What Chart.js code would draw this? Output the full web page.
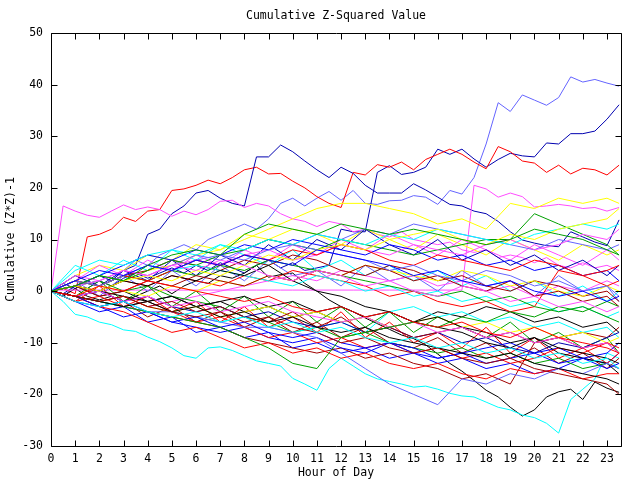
<!DOCTYPE html>
<html lang="en">
<head>
<meta charset="UTF-8">
<title>Cumulative Z-Squared Value</title>
<script src="https://cdn.jsdelivr.net/npm/chart.js@4/dist/chart.umd.min.js"></script>
<style>
  html, body { margin: 0; padding: 0; background: #fff; }
  #wrap { width: 640px; height: 480px; }
</style>
</head>
<body>
<div id="wrap"><canvas id="chart" width="640" height="480"></canvas></div>
<script>
// x positions (hours)
const hoursHalf = [0,0.5,1,1.5,2,2.5,3,3.5,4,4.5,5,5.5,6,6.5,7,7.5,8,8.5,9,9.5,
  10,10.5,11,11.5,12,12.5,13,13.5,14,14.5,15,15.5,16,16.5,17,17.5,18,18.5,19,19.5,
  20,20.5,21,21.5,22,22.5,23,23.5];
const hoursWhole = [0,1,2,3,4,5,6,7,8,9,10,11,12,13,14,15,16,17,18,19,20,21,22,23,23.5];

const xTicks = [0,1,2,3,4,5,6,7,8,9,10,11,12,13,14,15,16,17,18,19,20,21,22,23];
const yTicks = [-30,-20,-10,0,10,20,30,40,50];

// prominent traces, half-hour readings
const lightBlueTop = [0,-1,1,2,3,2,4,6,5,7, 8,9,8,10,11,12,13,12,14,17,
  18,16.5,18,19.3,17.6,19.5,17,16.8,17.5,17.6, 18.5,18.2,16.8,19.5,18.8,22,28.5,36.5,34.8,38,
  37,36,37.5,41.5,40.5,41,40.3,39.7];
const navyLate = [0,-0.5,1,0.5,2,1,2.5,3.5,2.5,3.5, 4.5,3.5,5,4,5.5,4.5,3.5,5,6,4.5,
  5.5,4,4.5,5,12,11.5,11.5,23,24.3,22.6, 23,24,27.5,26.5,27.5,25.6,24,25.5,26.7,26.2,
  26,28.7,28.5,30.5,30.5,31,33.3,36.1];
const navyEarly = [0,1.5,0.5,2,3,2,4,5,11,12, 15,16.5,19,19.5,18,17,16.5,26,26,28.3,
  27,25.2,23.5,22,24,22.8,20.5,19,19,19, 20.8,19.6,18.2,16.8,16.5,15.5,15,13.5,11.5,9.9,
  9.3,8.8,8.6,11.5,10.5,9.5,8.8,13.8];
const redTop = [0,0.5,-0.5,10.5,11,12,14.3,13.5,15.5,15.8, 19.5,19.8,20.5,21.5,20.8,22,23.5,24,22.7,22.8,
  21.3,20,18.3,17,16.2,23,22.5,24.5,24,25, 23.5,25.5,26.5,27.5,26.5,25,23.7,28,27,25.2,
  24.8,23,24.4,22.7,23.8,23.5,22.5,24.4];
const magentaHigh = [0,16.5,15.5,14.7,14.3,15.5,16.7,15.8,16.3,15.8, 14.5,15.5,14.8,15.8,17.4,17.6,16.2,17,16.5,15,
  14,13.5,12.5,13.5,13,11.5,12,11,10.5,11.5, 10,9.5,9,9.5,8,7.5,8,6.5,7,6.5,
  5.5,6.5,5,4.5,5.5,4.5,5,4];
const magentaFlat = [0.2,0.2,0.2,0.2,0.2,0.2,0.2,0.2,0.2,0.2, 0.2,0.2,0.2,0.2,0.2,0.2,0.2,0.2,0.2,0.2,
  0.2,0.2,0.2,0.2,0.2,0.2,0.2,0.2,0.2,0.2, 0.2,0.2,0.2,0.2,0.2,20.5,19.8,18.2,19,18.3,
  16.3,16.5,16.8,16.5,16,16.2,15.5,16.2];
const cyanLow = [0,-2,-4.5,-5,-6,-6.5,-7.5,-7.8,-8.9,-9.8, -11,-12.5,-13,-11,-10.8,-11.5,-12.5,-13.5,-14,-14.5,
  -16.9,-18,-19.2,-15,-13,-14.5,-16,-17,-17.5,-18, -18.6,-18.4,-19,-19.8,-20.3,-20.5,-21.5,-22.5,-23,-24,
  -24.5,-25.6,-27.5,-21,-19,-17,-12,-13];
const blackLow = [0,-1,0.5,-1,-1.7,-1,-2,-1,0,1, -0.5,1,2,1.5,3,2.5,3.5,5,2.7,3.2,
  3.5,1.5,0,-1.7,-3,-4,-5.2,-6.3,-7.4,-8.5, -9.2,-10.4,-12.2,-14,-15.5,-17.3,-19.2,-20.5,-22.5,-24.2,
  -23,-20.5,-19.5,-19,-21,-17.6,-18.8,-19.6];

// remaining traces, hourly readings
const s01 = [0,-1,1,0,2,1,0,-1,-2,-1,-3,-4,-3,-5,-4,-6,-7,-6,-8,-9,-7,-9,-10,-11,-12];
const s02 = [0,1,3,2,5,7,8,7,11,13,12,11,13,12,11,12,11,10,9,10,12,11,10,8,7];
const s03 = [0,2,4,3,5,4,6,5,7,6,5,8,7,6,5,3,4,2,1,2,0,-1,0,-2,-1];
const s04 = [0,3,2,4,3,5,4,6,5,3,2,4,3,1,2,0,-1,1,0,-2,-1,-3,-2,-4,-3];
const s05 = [0,-2,-3,-2,-4,-5,-4,-6,-5,-7,-6,-8,-7,-9,-10,-9,-11,-10,-12,-11,-13,-12,-14,-13,-15];
const s06 = [0,-1,-2,-1,-3,-4,-5,-4,-6,-5,-7,-8,-10,-9,-11,-12,-11,-13,-14,-13,-15,-16,-17,-18,-20];
const s07 = [0,1,0,2,3,2,4,3,5,7,6,8,9,8,10,11,12,10,9,11,10,12,13,14,16];
const s08 = [0,-1,-2,-3,-2,-4,-3,-5,-4,-6,-5,-7,-8,-7,-9,-10,-11,-12,-13,-12,-14,-15,-16,-17,-18];
const s09 = [0,2,1,3,5,4,6,7,6,8,9,8,7,6,4,5,3,2,4,3,1,2,0,1,-1];
const s10 = [0,2,1,3,2,4,6,5,7,6,8,7,9,8,6,5,7,6,5,4,6,5,3,4,5];
const s11 = [0,-1,-2,-3,-4,-5,-6,-7,-9,-11,-14,-15,-9,-8,-7,-6,-7,-5,-6,-4,-5,-3,-4,-2,-3];
const s12 = [0,-1,-3,-2,-4,-6,-5,-7,-6,-8,-9,-8,-10,-11,-10,-12,-13,-12,-14,-13,-12,-14,-13,-15,-14];
const s13 = [0,-1,0,-2,-1,-3,-2,-4,-3,-2,-4,-5,-6,-5,-7,-6,-8,-7,-9,-8,-10,-9,-11,-10,-12];
const s14 = [0,4,6,5,7,8,7,9,8,10,9,11,10,9,11,10,12,11,10,9,11,12,13,12,13];
const s15 = [0,1,-1,0,2,1,3,2,1,3,2,4,3,5,4,2,3,1,0,2,-1,0,-2,-1,-3];
const s16 = [0,-1,1,0,-1,1,0,2,1,3,2,4,3,5,4,3,2,4,3,1,2,0,-1,1,0];
const s17 = [0,1,0,2,1,3,2,4,3,5,2,0,-1,-3,-4,-6,-5,-7,-8,-10,-9,-11,-12,-13,-14];
const s18 = [0,-1,-2,-3,-4,-4,-5,-6,-7,-7,-8,-9,-12,-15,-18,-20,-22,-17,-18,-16,-17,-15,-16,-14,-15];
const s19 = [0,-2,-1,-3,-2,-4,-6,-5,-7,-9,-8,-10,-9,-11,-10,-12,-11,-13,-12,-14,-13,-11,-12,-10,-11];
const s20 = [0,2,1,3,2,4,3,5,4,6,5,4,3,2,1,0,-1,0,-2,-1,-3,-4,-3,-5,-6];
const s21 = [0,1,3,5,7,6,8,7,9,8,10,9,8,7,9,8,6,7,5,6,4,5,3,4,2];
const s22 = [0,-1,-2,-1,-3,-2,-4,-3,-5,-6,-4,-7,-5,-8,-7,-9,-8,-7,-9,-8,-10,-9,-11,-10,-12];
const s23 = [0,2,1,3,2,4,5,4,3,2,1,3,2,0,1,-1,0,-2,-1,-3,-2,-4,-3,-5,-4];
const s24 = [0,-1,-2,-1,-3,-4,-3,-5,-4,-3,-5,-4,-6,-5,-7,-6,-5,-7,-6,-8,-7,-9,-8,-10,-9];
const s25 = [0,1,2,4,3,5,6,5,7,8,6,7,9,8,7,9,8,7,9,10,8,9,11,10,12];
const s26 = [0,-1,-3,-4,-6,-8,-7,-9,-11,-10,-12,-11,-13,-12,-14,-15,-14,-16,-17,-15,-16,-15,-17,-16,-16];
const s27 = [0,1,3,2,4,6,5,7,8,10,9,8,10,9,8,7,8,9,10,10,15,13,11,9,7];
const s28 = [0,-1,0,-2,-1,-3,-4,-3,-5,-4,-6,-7,-6,-8,-7,-9,-8,-10,-9,-11,-12,-10,-11,-9,-8];
const s29 = [0,-1,0,-1,-2,-1,-3,-2,-1,-3,-2,-4,-3,-5,-4,-6,-7,-8,-10,-11,-9,-12,-13,-14,-16];
const s30 = [0,1,2,4,3,5,7,6,8,10,9,11,10,12,11,13,12,11,10,9,8,10,9,8,9];
const s31 = [0,2,1,3,4,6,5,4,6,5,7,6,4,3,5,4,2,3,1,0,2,1,-1,0,-2];
const s32 = [0,1,3,2,4,5,7,8,10,12,14,16,17,17,16,15,13,14,12,17,16,18,17,18,17];
const s33 = [0,-1,-2,-3,-2,-4,-5,-6,-5,-7,-8,-7,-6,-8,-4,-3,-5,-4,-6,-5,-7,-6,-8,-7,-9];
const s34 = [0,-2,-3,-5,-4,-6,-7,-8,-7,-9,-10,-9,-11,-12,-10,-11,-13,-12,-11,-10,-12,-11,-13,-12,-10];
const s35 = [0,1,0,2,1,3,2,1,3,2,4,3,2,1,-1,0,-2,-3,-2,-4,-3,4,3,1,2];
const s36 = [0,1,2,0,1,-1,-2,-3,-5,-6,-8,-7,-9,-8,-10,-11,-12,-11,-13,-12,-14,-13,-15,-14,-15];
const s37 = [0,-1,-2,-1,-3,-2,-1,0,1,2,3,2,4,3,2,3,1,2,0,1,-1,1,0,2,1];
const s38 = [0,-1,-2,-3,-4,-5,-6,-7,-9,-10,-11,-12,-11,-13,-12,-14,-15,-17,-16,-18,-10,-9,-8,-9,-7];
const s39 = [0,3,1,4,2,6,3,7,5,9,6,10,8,12,9,7,10,6,8,5,7,4,6,3,5];
const s40 = [0,5,3,6,4,8,6,9,7,5,8,4,6,3,5,2,4,1,3,0,2,-1,1,-2,0];
const s41 = [0,-2,1,-3,-1,-4,-2,-6,-3,-7,-5,-8,-4,-9,-6,-10,-8,-11,-7,-12,-9,-13,-11,-14,-12];
const s42 = [0,2,5,3,6,4,7,5,8,6,9,7,10,8,11,9,7,10,8,6,9,7,5,8,6];
const s43 = [0,-1,2,-2,1,-3,0,-4,-1,-5,-2,-6,-3,-7,-4,-8,-5,-7,-9,-6,-10,-8,-11,-9,-12];
const s44 = [0,3,5,4,7,6,9,8,11,10,12,11,9,12,10,8,11,9,7,10,8,6,9,7,8];
const s45 = [0,-1,-3,-2,-5,-3,-6,-4,-7,-5,-8,-6,-9,-7,-10,-11,-9,-12,-10,-13,-11,-14,-12,-15,-13];
const s46 = [0,2,-1,3,0,4,1,5,2,6,3,4,1,5,2,3,0,4,1,2,-1,3,0,1,-2];
const s47 = [0,-2,-4,-3,-6,-5,-8,-7,-9,-8,-11,-10,-12,-11,-13,-12,-14,-13,-15,-14,-16,-15,-13,-14,-12];
const s48 = [0,1,-1,0,-2,-1,-3,-2,-4,-3,-5,-4,-6,-5,-7,-6,-4,-5,-3,-4,-6,-5,-7,-6,-8];

const RED = '#ff0000', GREEN = '#00a000', BLUE = '#0000ff', NAVY = '#0000b0',
      MAGENTA = '#ff4cff', CYAN = '#00ffff', DKRED = '#a00000', YELLOW = '#ffff00',
      BLACK = '#000000', PERI = '#6464ff';

const hourly = [
  [s01, RED], [s02, GREEN], [s03, BLUE], [s04, MAGENTA], [s05, CYAN], [s06, DKRED],
  [s07, YELLOW], [s08, BLACK], [s09, PERI], [s10, RED], [s11, GREEN], [s12, BLUE],
  [s13, MAGENTA], [s14, CYAN], [s15, DKRED], [s16, YELLOW], [s17, BLACK], [s18, PERI],
  [s19, RED], [s20, GREEN], [s21, BLUE], [s22, DKRED], [s23, CYAN], [s24, YELLOW],
  [s25, MAGENTA], [s26, RED], [s27, GREEN], [s28, NAVY], [s29, BLACK], [s30, PERI],
  [s31, DKRED], [s32, YELLOW], [s33, CYAN], [s34, BLUE], [s35, RED], [s36, GREEN],
  [s37, MAGENTA], [s38, DKRED], [s39, NAVY], [s40, CYAN], [s41, RED], [s42, MAGENTA],
  [s43, GREEN], [s44, YELLOW], [s45, DKRED], [s46, PERI], [s47, BLUE], [s48, BLACK]
];
const halfHourly = [
  [magentaFlat, MAGENTA], [magentaHigh, MAGENTA], [cyanLow, CYAN], [blackLow, BLACK],
  [navyEarly, NAVY], [redTop, RED], [navyLate, NAVY], [lightBlueTop, PERI]
];

function series(xs, ys, color) {
  return {
    data: ys.map((v, i) => ({ x: xs[i], y: v })),
    borderColor: color,
    borderWidth: 1,
    pointRadius: 0,
    tension: 0,
    fill: false
  };
}

const datasets = hourly.map(s => series(hoursWhole, s[0], s[1]))
  .concat(halfHourly.map(s => series(hoursHalf, s[0], s[1])));

const FONT = '"DejaVu Sans Mono", monospace';

// gnuplot-style frame with inward ticks on all four sides, plus the title
const framePlugin = {
  id: 'frame',
  afterDatasetsDraw(chart) {
    const { ctx, chartArea: a, scales } = chart;
    ctx.save();
    ctx.strokeStyle = '#000';
    ctx.lineWidth = 1;
    ctx.beginPath();
    const L = Math.round(a.left) + 0.5, R = Math.round(a.right) + 0.5;
    const T = Math.round(a.top) + 0.5, B = Math.round(a.bottom) + 0.5;
    ctx.rect(L, T, R - L, B - T);
    xTicks.forEach(v => {
      const px = Math.round(scales.x.getPixelForValue(v)) + 0.5;
      ctx.moveTo(px, B); ctx.lineTo(px, B - 6);
      ctx.moveTo(px, T); ctx.lineTo(px, T + 6);
    });
    yTicks.forEach(v => {
      const py = Math.round(scales.y.getPixelForValue(v)) + 0.5;
      ctx.moveTo(L, py); ctx.lineTo(L + 6, py);
      ctx.moveTo(R, py); ctx.lineTo(R - 6, py);
    });
    ctx.stroke();
    ctx.fillStyle = '#000';
    ctx.font = '11.5px ' + FONT;
    ctx.textAlign = 'center';
    ctx.textBaseline = 'middle';
    ctx.fillText('Cumulative Z-Squared Value', (a.left + a.right) / 2, 16);
    ctx.restore();
  }
};

Chart.defaults.font.family = FONT;
Chart.defaults.font.size = 11.5;
Chart.defaults.color = '#000';

new Chart(document.getElementById('chart'), {
  type: 'line',
  data: { datasets },
  options: {
    responsive: false,
    animation: false,
    layout: { padding: { top: 33, right: 19, bottom: 0, left: 0 } },
    plugins: { legend: { display: false }, tooltip: { enabled: false } },
    scales: {
      x: {
        type: 'linear',
        min: 0,
        max: 23.58,
        grid: { display: false, drawTicks: false },
        border: { display: false },
        ticks: { stepSize: 1, includeBounds: false, padding: 6, maxRotation: 0, autoSkip: false },
        title: { display: true, text: 'Hour of Day', padding: { top: 0, bottom: 0 } },
        afterFit: s => { s.height = 34; }
      },
      y: {
        min: -30,
        max: 50,
        grid: { display: false, drawTicks: false },
        border: { display: false },
        ticks: { stepSize: 10, padding: 8 },
        title: { display: true, text: 'Cumulative (Z*Z)-1', padding: { top: 4, bottom: 0 } },
        afterFit: s => { s.width = 51; }
      }
    }
  },
  plugins: [framePlugin]
});
</script>
</body>
</html>
